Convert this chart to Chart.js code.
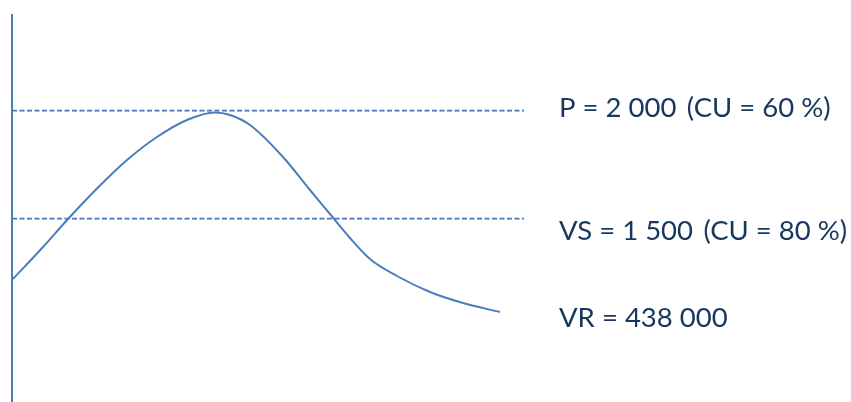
<!DOCTYPE html>
<html>
<head>
<meta charset="utf-8">
<script src="https://cdn.jsdelivr.net/npm/chart.js@4"></script>
<style>
  html, body { margin: 0; padding: 0; background: #fff; }
  #wrap { width: 851px; height: 402px; }
</style>
</head>
<body>
<div id="wrap"><canvas id="chart" width="851" height="402"></canvas></div>
<script>
// demand curve (schematic units)
const curveX = [1, 31, 56, 85, 115, 145, 175, 203, 218, 238, 271, 298, 318, 338, 358, 385, 418, 451, 488];
const curveY = [123, 155, 183, 213.5, 242, 265, 282, 289.5, 287, 277, 245, 212, 188, 164, 143, 126, 110, 99, 90];

// horizontal reference levels
const levelNames = ['P', 'VS'];
const levelValues = [291.5, 183.3];
const levelStart = 0;
const levelEnd = 512;

// labels on the right
const labelTexts = ['P = 2 000 \u2009(CU = 60 %)', 'VS = 1 500 \u2009(CU = 80 %)', 'VR = 438 000'];
const labelValues = [285, 162, 75];
const labelX = 547;

const blue = '#4a7ebb';

const datasets = [{
    label: 'curve',
    data: curveX.map((x, i) => ({ x: x, y: curveY[i] })),
    borderColor: blue,
    borderWidth: 2,
    pointRadius: 0,
    cubicInterpolationMode: 'monotone',
    fill: false
}];
levelValues.forEach((v, i) => {
    datasets.push({
        label: levelNames[i],
        data: [{ x: levelStart, y: v }, { x: levelEnd, y: v }],
        borderColor: '#4677be',
        borderWidth: 1.75,
        borderDash: [5, 2.5],
        pointRadius: 0,
        fill: false
    });
});

const labelPlugin = {
    id: 'sideLabels',
    afterDraw(chart) {
        const ctx = chart.ctx;
        const xs = chart.scales.x, ys = chart.scales.y;
        ctx.save();
        ctx.font = '27.5px Lato';
        ctx.fillStyle = '#17375e';
        ctx.textBaseline = 'alphabetic';
        labelTexts.forEach((t, i) => {
            ctx.fillText(t, xs.getPixelForValue(labelX), ys.getPixelForValue(labelValues[i]));
        });
        ctx.restore();
    }
};

new Chart(document.getElementById('chart').getContext('2d'), {
    type: 'line',
    data: { datasets: datasets },
    options: {
        responsive: false,
        animation: false,
        devicePixelRatio: 1,
        layout: { padding: { left: 12, top: 15, right: 0, bottom: 0 } },
        plugins: { legend: { display: false }, tooltip: { enabled: false } },
        scales: {
            x: { type: 'linear', min: 0, max: 839, display: false },
            y: {
                min: 0, max: 387,
                ticks: { display: false },
                grid: { display: false, drawTicks: false },
                border: { display: true, color: blue, width: 2 },
                afterFit(scale) { scale.width = 0; }
            }
        }
    },
    plugins: [labelPlugin]
});
</script>
</body>
</html>
